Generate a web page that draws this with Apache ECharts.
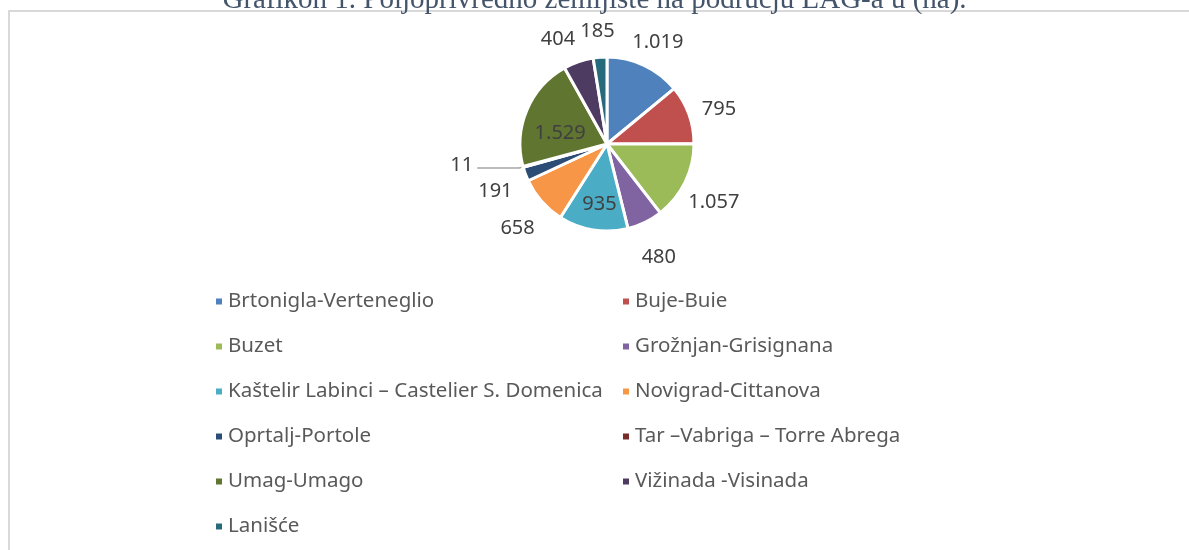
<!DOCTYPE html>
<html lang="hr" style="height: 100%">
<head>
  <meta charset="utf-8">
</head>
<body style="height: 100%; margin: 0">
  <div id="container" style="height: 100%"></div>
  <script type="text/javascript" src="https://fastly.jsdelivr.net/npm/echarts@6/dist/echarts.min.js"></script>
  <script type="text/javascript">
    var dom = document.getElementById('container');
    var myChart = echarts.init(dom, null, { renderer: 'canvas' });

    // podaci (ha)
    var names = ['Brtonigla-Verteneglio', 'Buje-Buie', 'Buzet', 'Grožnjan-Grisignana',
      'Kaštelir Labinci – Castelier S. Domenica', 'Novigrad-Cittanova', 'Oprtalj-Portole',
      'Tar –Vabriga – Torre Abrega', 'Umag-Umago', 'Vižinada -Visinada', 'Lanišće'];
    var values = [1019, 795, 1057, 480, 935, 658, 191, 11, 1529, 404, 185];
    var colors = ['#4F81BD', '#C0504D', '#9BBB59', '#8064A2', '#4BACC6', '#F79646',
      '#2C4D75', '#772C2A', '#5F7530', '#4D3B62', '#276A7C'];
    var insideLabels = ['Umag-Umago', 'Kaštelir Labinci – Castelier S. Domenica'];
    var leftLegend = [names[0], names[2], names[4], names[6], names[8], names[10]];
    var rightLegend = [names[1], names[3], names[5], names[7], names[9]];

    function fmt(v) {
      return String(v).replace(/\B(?=(\d{3})+(?!\d))/g, '.');
    }

    var pieData = names.map(function (n, i) {
      var d = { name: n, value: values[i] };
      if (insideLabels.indexOf(n) >= 0) {
        d.label = { position: 'inside' };
      }
      if (i === 7) {
        d.labelLine = { show: true, length: 4, length2: 42, lineStyle: { color: '#A6A6A6', width: 1.5 } };
        d.label = { distanceToLabelLine: 4 };
      }
      return d;
    });

    var legendText = { color: '#595959', fontSize: 20.5, lineHeight: 20, fontFamily: 'Noto Sans' };

    var option = {
      color: colors,
      animation: false,
      title: {
        text: 'Grafikon 1. Poljoprivredno zemljište na području LAG-a u (ha).',
        left: 'center',
        top: -19,
        textStyle: { fontFamily: 'Liberation Serif', fontSize: 29, lineHeight: 29, fontWeight: 'normal', color: '#44546A' }
      },
      graphic: [{
        type: 'rect',
        shape: { x: 9, y: 11, width: 1400, height: 800 },
        style: { fill: 'none', stroke: '#D9D9D9', lineWidth: 2 },
        silent: true
      }],
      legend: [{
        orient: 'vertical',
        left: 209,
        top: 286,
        itemWidth: 8,
        itemHeight: 8,
        icon: 'rect',
        itemGap: 24,
        textStyle: legendText,
        data: leftLegend
      }, {
        orient: 'vertical',
        left: 616,
        top: 286,
        itemWidth: 8,
        itemHeight: 8,
        icon: 'rect',
        itemGap: 24,
        textStyle: legendText,
        data: rightLegend
      }],
      series: [{
        type: 'pie',
        center: [607, 144],
        radius: 87,
        startAngle: 90,
        clockwise: true,
        avoidLabelOverlap: false,
        itemStyle: { borderColor: '#fff', borderWidth: 3 },
        label: {
          show: true,
          position: 'outside',
          color: '#404040',
          fontSize: 20,
          fontFamily: 'Noto Sans',
          distanceToLabelLine: 0,
          formatter: function (p) { return fmt(p.value); }
        },
        labelLine: { show: false, length: 32, length2: 0 },
        labelLayout: function (p) {
          if (p.dataIndex === 7) return { align: 'right', verticalAlign: 'middle', dy: -3 };
          if (p.dataIndex === 4) return { dy: 14 };
          if (p.dataIndex === 8) return { dx: -4, dy: 7 };
          if (p.dataIndex === 9) return { align: 'center', verticalAlign: 'middle', dx: -10, dy: 8 };
          return { align: 'center', verticalAlign: 'middle', dy: 6 };
        },
        emphasis: { disabled: true },
        data: pieData
      }]
    };

    myChart.setOption(option);
    window.addEventListener('resize', myChart.resize);
  </script>
</body>
</html>
